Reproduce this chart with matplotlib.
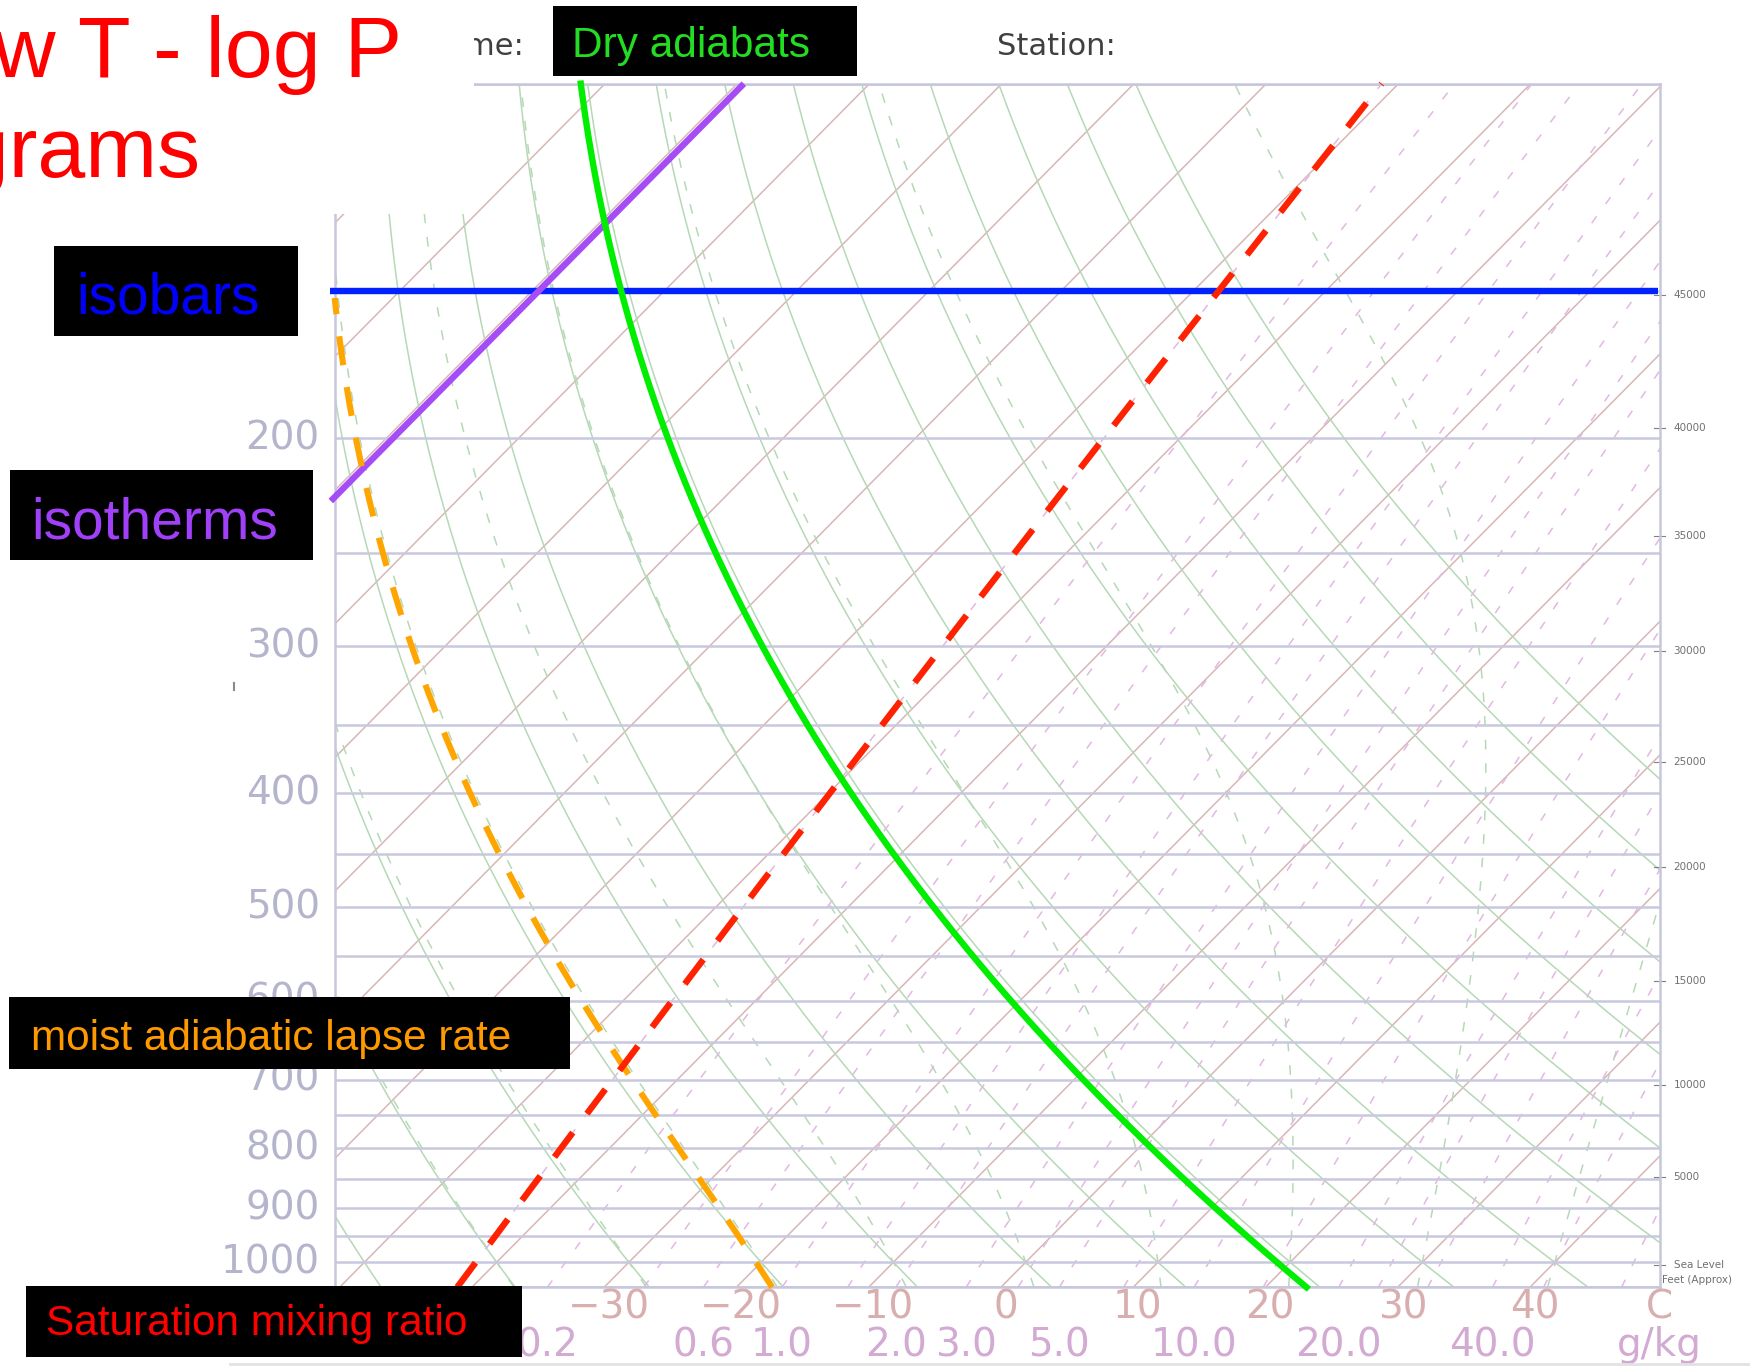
import numpy as np
import matplotlib
matplotlib.use("Agg")
import matplotlib.pyplot as plt
from matplotlib.patches import Rectangle
from matplotlib.lines import Line2D

plt.rcParams['lines.scale_dashes'] = False

W, H = 1750, 1367

# background grid of the skew-T chart
isobars_hpa = list(range(100, 1051, 50))
isotherms_c = list(range(-160, 51, 10))
dry_adiabats_c = list(range(-50, 101, 10))          # theta at 1000 hPa
moist_adiabats_c = [-40, -30, -20, -10, 0, 10, 20, 30, 40]   # theta-w at 1000 hPa
mixing_ratios = [0.1, 0.2, 0.4, 0.6, 1.0, 1.5, 2.0, 3.0, 4.0, 5.0, 7.0, 10.0,
                 14.0, 20.0, 24.0, 30.0, 40.0, 50.0, 70.0]

pressure_labels = [200, 300, 400, 500, 600, 700, 800, 900, 1000]
temp_labels = [-30, -20, -10, 0, 10, 20, 30, 40]
mixing_labels = [0.2, 0.6, 1.0, 2.0, 3.0, 5.0, 10.0, 20.0, 40.0]

altitude_labels = ['Sea Level', '5000', '10000', '15000', '20000', '25000',
                   '30000', '35000', '40000', '45000']
altitude_hpa = [1006, 847, 707, 577, 462, 376, 303, 242, 196, 151]

# highlighted lines
hl_isobar = 150
hl_isotherm = -109.5
hl_isotherm_base = 226
hl_dry_theta = 19
hl_moist_start = -17.3
hl_moist_top = 152
hl_mixing = 0.1

P_BOT, P_TOP = 1050, 100
SKEW = 38.3          # deg C of x shift per unit ln(1000/p)
Rd, Cp, Lv, EPS = 287.04, 1005.7, 2.501e6, 0.622


def skew_x(t, p):
    return np.asarray(t) + SKEW * np.log(1000.0 / np.asarray(p))


def sat_vp(t_c):
    return 6.112 * np.exp(17.67 * t_c / (t_c + 243.5))


def dew_from_mixing(w_gkg, p):
    e = (w_gkg / 1000.0) * p / (EPS + w_gkg / 1000.0)
    a = np.log(e / 6.112)
    return 243.5 * a / (17.67 - a)


def dtdlnp(tk, p):
    es = sat_vp(tk - 273.15)
    rs = EPS * es / (p - es)
    return (Rd * tk + Lv * rs) / (Cp + Lv ** 2 * rs * EPS / (Rd * tk ** 2))


def moist_temps(t_start, p_path):
    t = t_start + 273.15
    out = [t]
    for pa, pb in zip(p_path[:-1], p_path[1:]):
        h = np.log(pb) - np.log(pa)
        pm = np.sqrt(pa * pb)
        k1 = dtdlnp(t, pa)
        k2 = dtdlnp(t + h * k1 / 2, pm)
        k3 = dtdlnp(t + h * k2 / 2, pm)
        k4 = dtdlnp(t + h * k3, pb)
        t = t + h * (k1 + 2 * k2 + 2 * k3 + k4) / 6
        out.append(t)
    return np.array(out) - 273.15


fig = plt.figure(figsize=(W / 100, H / 100), dpi=100)
fig.patch.set_facecolor('white')

ax = fig.add_axes([300 / 1568, 1 - 1153.5 / 1225, 1187 / 1568, 1078.5 / 1225])
ax.set_yscale('log')
ax.set_ylim(P_BOT, P_TOP)
ax.set_xlim((300 - 919) / 11.85, (1487 - 919) / 11.85)
ax.tick_params(which='both', length=0, labelleft=False, labelbottom=False)
for sp in ax.spines.values():
    sp.set_color('#c6c6dc')
    sp.set_linewidth(1.8)

iso_col = '#c8c8de'
temp_col = '#d8b6b6'
dry_col = '#b6d8b6'
mix_col = '#e2b8e2'

for p in isobars_hpa:
    ax.axhline(p, color=iso_col, lw=1.8, zorder=2)

for t in isotherms_c:
    ax.plot(skew_x([t, t], [P_BOT, P_TOP]), [P_BOT, P_TOP], color=temp_col, lw=1.1, zorder=1)

pp = np.geomspace(P_BOT, P_TOP, 300)
for th in dry_adiabats_c:
    tt = (th + 273.15) * (pp / 1000.0) ** 0.2857 - 273.15
    ax.plot(skew_x(tt, pp), pp, color=dry_col, lw=1.1, zorder=1)

p_up = np.geomspace(1000, P_TOP, 300)
p_dn = np.geomspace(1000, P_BOT, 10)
for tw in moist_adiabats_c:
    up = moist_temps(tw, p_up)
    dn = moist_temps(tw, p_dn)
    tt = np.concatenate([dn[::-1], up[1:]])
    pr = np.concatenate([p_dn[::-1], p_up[1:]])
    ax.plot(skew_x(tt, pr), pr, color=dry_col, lw=1.1, dashes=(7, 10), zorder=1)

for w in mixing_ratios:
    td = dew_from_mixing(w, pp)
    ax.plot(skew_x(td, pp), pp, color=mix_col, lw=1.1, dashes=(6, 11), zorder=1)

# axis labels
for p in pressure_labels:
    ax.annotate(str(p), xy=(0, p), xycoords=('axes fraction', 'data'),
                xytext=(-15, 0), textcoords='offset pixels', ha='right', va='center',
                fontsize=28, color='#b4b4cc', annotation_clip=False)
for t in temp_labels:
    txt = str(t).replace('-', '\u2212')
    ax.annotate(txt, xy=(skew_x(t, P_BOT) + 0.35, P_BOT), xycoords='data',
                xytext=(0, -20), textcoords='offset pixels', ha='center', va='center',
                fontsize=28, color='#d8aeae', annotation_clip=False)
ax.annotate('C', xy=(1, 0), xycoords='axes fraction', xytext=(0, -20),
            textcoords='offset pixels', ha='center', va='center', fontsize=28,
            color='#d8aeae', annotation_clip=False)
for w in mixing_labels:
    x = skew_x(dew_from_mixing(w, P_BOT), P_BOT)
    ax.annotate(f'{w:.1f}', xy=(x, P_BOT), xycoords='data',
                xytext=(0, -58), textcoords='offset pixels', ha='center', va='center',
                fontsize=28, color='#d2aad2', annotation_clip=False)
ax.annotate('g/kg', xy=(1, 0), xycoords='axes fraction', xytext=(0, -58),
            textcoords='offset pixels', ha='center', va='center', fontsize=28,
            color='#d2aad2', annotation_clip=False)

# altitude scale on the right
ytr = ax.get_yaxis_transform()
for lab, p in zip(altitude_labels, altitude_hpa):
    ax.plot([0.9958, 1.0042], [p, p], transform=ytr, color='#808080', lw=0.8, clip_on=False)
    ax.annotate(lab, xy=(1, p), xycoords=('axes fraction', 'data'), xytext=(14, 0),
                textcoords='offset pixels', ha='left', va='center', fontsize=7.5,
                color='#707070', annotation_clip=False)
ax.annotate('Feet (Approx)', xy=(1, altitude_hpa[0]), xycoords=('axes fraction', 'data'),
            xytext=(2, -15), textcoords='offset pixels', ha='left', va='center',
            fontsize=7.5, color='#707070', annotation_clip=False)

# highlighted lines
ax.plot([-0.004, 0.999], [hl_isobar, hl_isobar], transform=ytr, color='#0022ff',
        lw=4.6, clip_on=False, zorder=6, solid_capstyle='butt')

p_iso = np.array([hl_isotherm_base, P_TOP])
ax.plot(skew_x([hl_isotherm, hl_isotherm], p_iso), p_iso, color='#a64cf6', lw=4.6,
        clip_on=False, zorder=6, solid_capstyle='butt')

tt = (hl_dry_theta + 273.15) * (pp / 1000.0) ** 0.2857 - 273.15
ax.plot(skew_x(tt, pp), pp, color='#00ee00', lw=4.6, clip_on=False, zorder=6)

p_m = np.geomspace(P_BOT, hl_moist_top, 300)
tm = moist_temps(hl_moist_start, p_m)
ax.plot(skew_x(tm, p_m), p_m, color='#ffa500', lw=4.4, dashes=(21, 16),
        clip_on=False, zorder=6)

td = dew_from_mixing(hl_mixing, pp)
ax.plot(skew_x(td, pp), pp, color='#ff2200', lw=4.6, dashes=(22, 17),
        clip_on=False, zorder=6)


def px_rect(x0, y0, x1, y1, color, z):
    fig.add_artist(Rectangle((x0 / W, 1 - y1 / H), (x1 - x0) / W, (y1 - y0) / H,
                             transform=fig.transFigure, facecolor=color,
                             edgecolor='none', zorder=z))


def px_text(x, y, s, size, color, ha='left', family='Liberation Sans', z=5, **kw):
    fig.text(x / W, 1 - y / H, s, ha=ha, va='baseline', fontsize=size, color=color,
             family=family, zorder=z, **kw)


# header of the chart form
px_text(524, 55, 'Time:', 22, '#404040', ha='right', family='DejaVu Sans', z=1)
px_text(997, 55, 'Station:', 22, '#404040', family='DejaVu Sans', z=1)

# white title area
px_rect(0, 0, 474, 214, 'white', 2)
px_text(402, 77, 'Skew T - log P', 62, '#ff0000', ha='right', z=3)
px_text(201, 177, 'diagrams', 62, '#ff0000', ha='right', z=3)

# labelled boxes
px_rect(553, 6, 857, 76, 'black', 4)
px_text(572, 57, 'Dry adiabats', 30.5, '#22dd22')

px_rect(54, 246, 298, 336, 'black', 4)
px_text(76, 313, 'isobars', 41, '#0000ff')

px_rect(10, 470, 313, 560, 'black', 4)
px_text(31, 538, 'isotherms', 41, '#a040f8')

px_rect(9, 997, 570, 1069, 'black', 4)
px_text(31, 1050, 'moist adiabatic lapse rate', 30.5, '#ff9900')

px_rect(26, 1286, 522, 1357, 'black', 4)
px_text(46, 1335, 'Saturation mixing ratio', 30.5, '#ff0000')

fig.add_artist(Line2D([230 / W, 1], [1 - 1364 / H] * 2, color='#e2e2e2', lw=2))
fig.add_artist(Line2D([234 / W] * 2, [1 - 683 / H, 1 - 690 / H], color='#8a8a8a', lw=1.5))

fig.savefig('out.png', dpi=100)
